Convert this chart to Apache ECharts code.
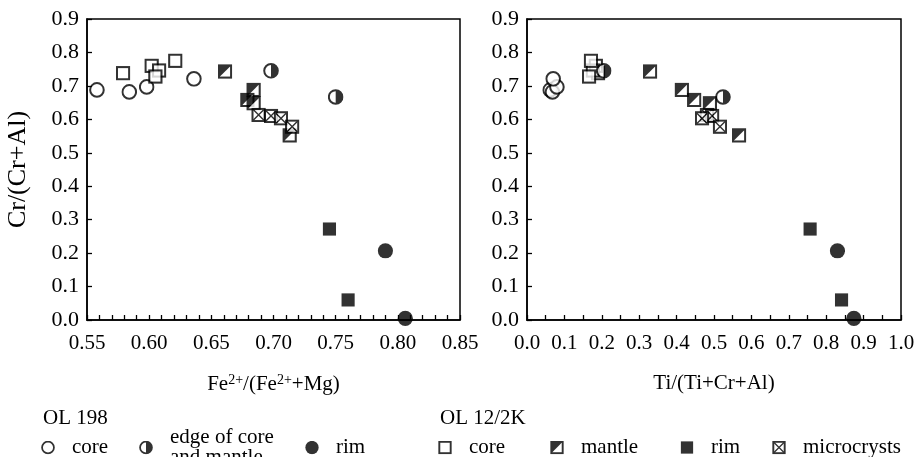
<!DOCTYPE html>
<html>
<head>
<meta charset="utf-8">
<script src="https://cdn.jsdelivr.net/npm/echarts@6/dist/echarts.min.js"></script>
<style>
  html, body { margin: 0; padding: 0; background: #fff; }
  #chart { width: 917px; height: 457px; }
</style>
</head>
<body>
<div id="chart"></div>
<script>
// Spinel compositions: Fe2+/(Fe2+ + Mg), Ti/(Ti+Cr+Al) and Cr/(Cr+Al)
// OL 198
const ol198CoreFe = [0.558, 0.584, 0.598, 0.636];
const ol198CoreTi = [0.062, 0.068, 0.080, 0.070];
const ol198CoreCr = [0.688, 0.682, 0.697, 0.721];

const ol198EdgeFe = [0.698, 0.750];
const ol198EdgeTi = [0.205, 0.524];
const ol198EdgeCr = [0.745, 0.667];

const ol198RimFe = [0.790, 0.806];
const ol198RimTi = [0.830, 0.874];
const ol198RimCr = [0.207, 0.005];

// OL 12/2K
const ol12CoreFe = [0.579, 0.602, 0.608, 0.605, 0.621];
const ol12CoreTi = [0.190, 0.184, 0.176, 0.166, 0.171];
const ol12CoreCr = [0.738, 0.760, 0.746, 0.728, 0.775];

const ol12MantleFe = [0.661, 0.684, 0.679, 0.684, 0.713];
const ol12MantleTi = [0.329, 0.414, 0.447, 0.489, 0.567];
const ol12MantleCr = [0.743, 0.688, 0.658, 0.648, 0.552];

const ol12RimFe = [0.745, 0.760];
const ol12RimTi = [0.757, 0.841];
const ol12RimCr = [0.272, 0.060];

const ol12MicroFe = [0.688, 0.698, 0.706, 0.715];
const ol12MicroTi = [0.481, 0.495, 0.468, 0.516];
const ol12MicroCr = [0.613, 0.610, 0.603, 0.578];

// Axis ranges
const feRange = [0.55, 0.85, 0.05];
const tiRange = [0.0, 1.0, 0.1];
const crRange = [0.0, 0.9, 0.1];

const FONT = '"Liberation Serif", "Times New Roman", serif';

// Marker glyphs drawn as small SVG images
function svgIcon(body) {
  const s = "<svg xmlns='http://www.w3.org/2000/svg' width='16' height='16' viewBox='0 0 16 16'>" + body + "</svg>";
  return 'image://data:image/svg+xml;charset=utf-8,' + encodeURIComponent(s);
}
const SQ = "<rect x='1.5' y='1.5' width='13' height='13' fill='#fff' stroke='#000' stroke-width='2.2'/>";
const CI = "<circle cx='8' cy='8' r='6.8' fill='#fff' stroke='#000' stroke-width='2'/>";
const icons = {
  openCircle: svgIcon(CI),
  halfCircle: svgIcon(CI + "<path d='M8,1.2 A6.8,6.8 0 0 1 8,14.8 Z' fill='#000'/>"),
  fullCircle: svgIcon("<circle cx='8' cy='8' r='7.6' fill='#000'/>"),
  openSquare: svgIcon(SQ),
  halfSquare: svgIcon(SQ + "<polygon points='1.5,1.5 14.5,1.5 1.5,14.5' fill='#000'/>"),
  fullSquare: svgIcon("<rect x='1' y='1' width='14' height='14' fill='#000'/>"),
  crossSquare: svgIcon(SQ + "<path d='M2,2 L14,14 M14,2 L2,14' stroke='#000' stroke-width='1.5'/>")
};

const groups = [
  { name: 'OL 198 core', label: 'core', icon: icons.openCircle, size: 16, fe: ol198CoreFe, ti: ol198CoreTi, cr: ol198CoreCr },
  { name: 'OL 12/2K core', label: 'core', icon: icons.openSquare, size: 15, fe: ol12CoreFe, ti: ol12CoreTi, cr: ol12CoreCr },
  { name: 'OL 12/2K mantle', label: 'mantle', icon: icons.halfSquare, size: 15, fe: ol12MantleFe, ti: ol12MantleTi, cr: ol12MantleCr },
  { name: 'OL 12/2K microcrysts', label: 'microcrysts', icon: icons.crossSquare, size: 15, fe: ol12MicroFe, ti: ol12MicroTi, cr: ol12MicroCr },
  { name: 'OL 198 edge', label: 'edge of core\nand mantle', icon: icons.halfCircle, size: 16, fe: ol198EdgeFe, ti: ol198EdgeTi, cr: ol198EdgeCr },
  { name: 'OL 12/2K rim', label: 'rim', icon: icons.fullSquare, size: 15, fe: ol12RimFe, ti: ol12RimTi, cr: ol12RimCr },
  { name: 'OL 198 rim', label: 'rim', icon: icons.fullCircle, size: 16, fe: ol198RimFe, ti: ol198RimTi, cr: ol198RimCr }
];

const series = [];
groups.forEach(g => {
  [['fe', 0], ['ti', 1]].forEach(([key, idx]) => {
    series.push({
      name: g.name,
      type: 'scatter',
      xAxisIndex: idx,
      yAxisIndex: idx,
      symbol: g.icon,
      symbolSize: g.size,
      data: g[key].map((v, i) => [v, g.cr[i]]),
      emphasis: { disabled: true },
      z: 3
    });
  });
});

// One legend block per entry so each sits at its own position
const legendSpots = [
  { name: 'OL 198 core', left: 41 },
  { name: 'OL 198 edge', left: 139 },
  { name: 'OL 198 rim', left: 305 },
  { name: 'OL 12/2K core', left: 438 },
  { name: 'OL 12/2K mantle', left: 550 },
  { name: 'OL 12/2K rim', left: 680 },
  { name: 'OL 12/2K microcrysts', left: 772 }
];
const legends = legendSpots.map(spot => {
  const g = groups.find(x => x.name === spot.name);
  const twoLine = g.label.indexOf('\n') >= 0;
  return {
    left: spot.left,
    top: twoLine ? 427 : 437,
    padding: 0,
    orient: 'horizontal',
    itemWidth: 14,
    itemHeight: 14,
    itemGap: 0,
    selectedMode: false,
    data: [{ name: g.name, icon: g.icon }],
    formatter: () => g.label,
    textStyle: { fontFamily: FONT, fontSize: 21, color: '#000', lineHeight: 20, padding: [0, 0, 0, 12] }
  };
});

function axisCommon() {
  return {
    type: 'value',
    axisLine: { show: true, onZero: false, lineStyle: { color: '#000', width: 1.5 } },
    splitLine: { show: false },
    axisLabel: { color: '#000', fontFamily: FONT, fontSize: 21 },
    axisTick: { show: true, inside: true, length: 5, lineStyle: { color: '#000', width: 1.3 } }
  };
}

const supRich = {
  base: { fontFamily: FONT, fontSize: 21, color: '#000' },
  sup: { fontFamily: FONT, fontSize: 14, color: '#000', padding: [0, 0, 9, 0] }
};

const gridCommon = { top: 19, bottom: 137, show: true, borderColor: '#000', borderWidth: 1.5, containLabel: false, outerBoundsMode: 'none' };

const option = {
  animation: false,
  backgroundColor: '#fff',
  grid: [
    Object.assign({ left: 87, right: 457 }, gridCommon),
    Object.assign({ left: 527, right: 16 }, gridCommon)
  ],
  xAxis: [
    Object.assign(axisCommon(), {
      gridIndex: 0,
      min: feRange[0], max: feRange[1], interval: feRange[2],
      name: '{base|Fe}{sup|2+}{base|/(Fe}{sup|2+}{base|+Mg)}',
      nameLocation: 'middle', nameGap: 53,
      nameTextStyle: { rich: supRich },
      axisLabel: { color: '#000', fontFamily: FONT, fontSize: 21, margin: 13, formatter: v => v.toFixed(2) },
      minorTick: { show: true, splitNumber: 5, length: 5, lineStyle: { color: '#000', width: 1.3 } }
    }),
    Object.assign(axisCommon(), {
      gridIndex: 1,
      min: tiRange[0], max: tiRange[1], interval: tiRange[2],
      name: 'Ti/(Ti+Cr+Al)',
      nameLocation: 'middle', nameGap: 53,
      nameTextStyle: { fontFamily: FONT, fontSize: 21, color: '#000' },
      axisLabel: { color: '#000', fontFamily: FONT, fontSize: 21, margin: 13, formatter: v => v.toFixed(1) },
      minorTick: { show: true, splitNumber: 2, length: 5, lineStyle: { color: '#000', width: 1.3 } }
    })
  ],
  yAxis: [
    Object.assign(axisCommon(), {
      gridIndex: 0,
      min: crRange[0], max: crRange[1], interval: crRange[2],
      name: 'Cr/(Cr+Al)',
      nameLocation: 'middle', nameGap: 56,
      nameTextStyle: { fontFamily: FONT, fontSize: 26, color: '#000' },
      axisLabel: { color: '#000', fontFamily: FONT, fontSize: 22, margin: 8, formatter: v => v.toFixed(1) }
    }),
    Object.assign(axisCommon(), {
      gridIndex: 1,
      min: crRange[0], max: crRange[1], interval: crRange[2],
      axisLabel: { color: '#000', fontFamily: FONT, fontSize: 22, margin: 8, formatter: v => v.toFixed(1) }
    })
  ],
  legend: legends,
  graphic: [
    { type: 'text', left: 43, top: 408, style: { text: 'OL 198', fontFamily: FONT, fontSize: 21, fill: '#000' } },
    { type: 'text', left: 440, top: 408, style: { text: 'OL 12/2K', fontFamily: FONT, fontSize: 21, fill: '#000' } }
  ],
  series: series
};

const chart = echarts.init(document.getElementById('chart'), null, { renderer: 'canvas' });
chart.setOption(option);
</script>
</body>
</html>
